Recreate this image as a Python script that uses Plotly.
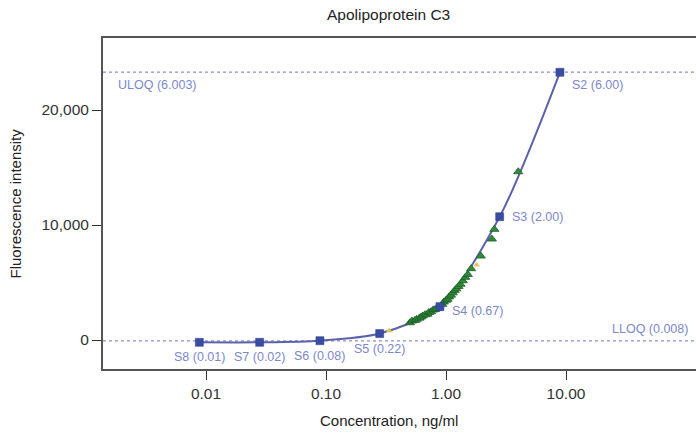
import numpy as np
import plotly.graph_objects as go

# Standards (positions) and their labels
std_names = ["S8 (0.01)", "S7 (0.02)", "S6 (0.08)", "S5 (0.22)", "S4 (0.67)", "S3 (2.00)", "S2 (6.00)"]
std_conc = [0.0088, 0.028, 0.089, 0.28, 0.89, 2.80, 8.9]
std_fluor = [-200, -200, -60, 560, 2900, 10720, 23280]

# Samples (green triangles)
smp_conc = [0.50, 0.52, 0.55, 0.57, 0.60, 0.62, 0.64, 0.67, 0.70, 0.72, 0.75, 0.78,
            0.81, 0.84, 0.93, 0.96, 1.00, 1.03, 1.06, 1.10, 1.14, 1.18, 1.22, 1.27,
            1.32, 1.38, 1.45, 1.52, 1.62, 1.95, 2.41, 2.53, 4.0]
smp_fluor = [1500, 1650, 1700, 1800, 1900, 2000, 2100, 2200, 2250, 2400, 2450, 2600,
             2650, 2750, 3100, 3300, 3450, 3550, 3750, 3900, 4100, 4300, 4450, 4650,
             4850, 5150, 5450, 5700, 6200, 7300, 8780, 9620, 14630]

# Controls (yellow triangles)
ctl_conc = [0.337, 1.80]
ctl_fluor = [810, 6520]

uloq_value, uloq_label = 23300, "ULOQ (6.003)"
lloq_value, lloq_label = -80, "LLOQ (0.008)"

x_ticks = [0.01, 0.1, 1, 10]
x_ticktext = ["0.01", "0.10", "1.00", "10.00"]
y_ticks = [0, 10000, 20000]
y_ticktext = ["0", "10,000", "20,000"]

FONT = "Liberation Sans, Arial, sans-serif"
LABEL_C = "#7d87cc"

fig = go.Figure()

# reference lines
for v in (uloq_value, lloq_value):
    fig.add_shape(type="line", xref="paper", x0=0, x1=1, yref="y", y0=v, y1=v,
                  line=dict(color="#8b90d4", width=1.3, dash="dot"), layer="below")

fig.add_trace(go.Scatter(x=std_conc, y=std_fluor, mode="lines",
                         line=dict(color="#5d61ab", width=2, shape="spline", smoothing=0.8),
                         hoverinfo="skip", showlegend=False))
fig.add_trace(go.Scatter(x=smp_conc, y=smp_fluor, mode="markers",
                         marker=dict(symbol="triangle-up", size=8, color="#2f8a3a",
                                     line=dict(color="#1d5e26", width=0.8)),
                         showlegend=False))
fig.add_trace(go.Scatter(x=ctl_conc, y=ctl_fluor, mode="markers",
                         marker=dict(symbol="triangle-up", size=6, color="#e6c24e"),
                         showlegend=False))
fig.add_trace(go.Scatter(x=std_conc, y=std_fluor, mode="markers",
                         marker=dict(symbol="square", size=8, color="#3a4da2",
                                     line=dict(color="#2c3d8c", width=0.5)),
                         showlegend=False))

# standard labels
for i, (name, c, f) in enumerate(zip(std_names, std_conc, std_fluor)):
    if i < 4:
        fig.add_annotation(x=np.log10(c), y=f, text=name, showarrow=False,
                           xanchor="center", yanchor="middle", yshift=-15,
                           font=dict(family=FONT, size=12.5, color=LABEL_C))
    else:
        ys = {4: -4, 5: 0, 6: -13}[i]
        fig.add_annotation(x=np.log10(c), y=f, text=name, showarrow=False,
                           xanchor="left", yanchor="middle", xshift=10, yshift=ys,
                           font=dict(family=FONT, size=12.5, color=LABEL_C))

fig.add_annotation(xref="paper", x=0.022, y=uloq_value, text=uloq_label, showarrow=False,
                   xanchor="left", yanchor="middle", yshift=-13,
                   font=dict(family=FONT, size=12.5, color=LABEL_C))
fig.add_annotation(xref="paper", x=0.99, y=lloq_value, text=lloq_label, showarrow=False,
                   xanchor="right", yanchor="middle", yshift=12,
                   font=dict(family=FONT, size=12.5, color=LABEL_C))

# title and axis titles
fig.add_annotation(xref="paper", yref="paper", x=(388 - 103) / 593, y=1, yshift=24,
                   text="Apolipoprotein C3", showarrow=False, xanchor="center", yanchor="middle",
                   font=dict(family=FONT, size=15.5, color="#222"))
fig.add_annotation(xref="paper", yref="paper", x=(389 - 103) / 593, y=0, yshift=-51,
                   text="Concentration, ng/ml", showarrow=False, xanchor="center", yanchor="middle",
                   font=dict(family=FONT, size=15, color="#222"))
fig.add_annotation(xref="paper", yref="paper", x=0, xshift=-88, y=0.5,
                   text="Fluorescence intensity", showarrow=False, textangle=-90,
                   xanchor="center", yanchor="middle",
                   font=dict(family=FONT, size=15, color="#222"))

fig.update_xaxes(type="log", range=[-2 - 103 / 120, 1 + 130 / 120],
                 tickvals=x_ticks, ticktext=x_ticktext,
                 ticks="outside", ticklen=9, tickwidth=1.2, tickcolor="#333",
                 showline=True, linecolor="#555", linewidth=2, mirror=True,
                 showgrid=False, zeroline=False,
                 tickfont=dict(family=FONT, size=15.5, color="#333"))
fig.update_yaxes(range=[-29 / 0.0115, 302 / 0.0115],
                 tickvals=y_ticks, ticktext=y_ticktext,
                 ticks="outside", ticklen=9, tickwidth=1.2, tickcolor="#333",
                 showline=True, linecolor="#555", linewidth=2,
                 showgrid=False, zeroline=False,
                 tickfont=dict(family=FONT, size=15.5, color="#333"))

fig.update_layout(width=696, height=437, margin=dict(l=103, r=0, t=38, b=68),
                  plot_bgcolor="white", paper_bgcolor="white")

fig.write_html("out.html")
